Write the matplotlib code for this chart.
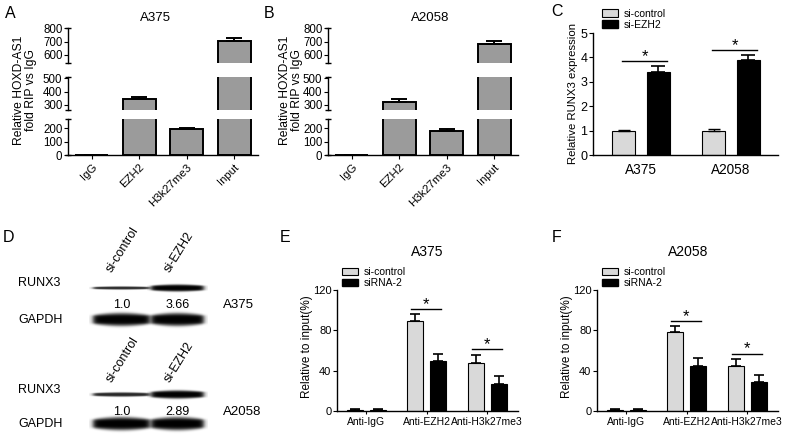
import numpy as np
import matplotlib
matplotlib.use('Agg')
import matplotlib.pyplot as plt
from matplotlib.patches import Patch

plt.rcParams['font.family'] = ['Liberation Sans', 'DejaVu Sans']
plt.rcParams['axes.linewidth'] = 1.0

# A / B : RIP assay
rip_cats = ['IgG', 'EZH2', 'H3k27me3', 'Input']
rip_a375 = [2, 345, 195, 705]
rip_a375_err = [1, 17, 10, 22]
rip_a2058 = [2, 325, 180, 680]
rip_a2058_err = [1, 20, 12, 28]

# C : qPCR
c_groups = ['A375', 'A2058']
c_ctrl = [1.0, 1.0]
c_ctrl_err = [0.03, 0.07]
c_ezh2 = [3.42, 3.88]
c_ezh2_err = [0.22, 0.22]

# D : western blot quantification
wb_lanes = ['si-control', 'si-EZH2']
wb_a375 = [1.0, 3.66]
wb_a2058 = [1.0, 2.89]

# E / F : ChIP
chip_cats = ['Anti-IgG', 'Anti-EZH2', 'Anti-H3k27me3']
e_ctrl = [1, 89, 48]
e_ctrl_err = [0.5, 7, 8]
e_si = [1, 50, 27]
e_si_err = [0.5, 7, 8]
f_ctrl = [1, 78, 45]
f_ctrl_err = [0.5, 6, 7]
f_si = [1, 45, 29]
f_si_err = [0.5, 8, 7]

W, H = 800, 438
fig = plt.figure(figsize=(W / 100, H / 100), dpi=100)


def px_axes(x0, y0, x1, y1):
    return fig.add_axes([x0 / W, 1 - y1 / H, (x1 - x0) / W, (y1 - y0) / H])


def ftext(x, y, s, **kw):
    fig.text(x / W, 1 - y / H, s, **kw)


def sig(ax, xl, xr, y, fs):
    ax.plot([xl, xr], [y, y], color='black', lw=1)
    ax.text((xl + xr) / 2, y, '*', ha='center', va='baseline', fontsize=fs)


def rip_panel(x0, x1, vals, errs):
    segs = [(119, 155, 0, 270, [0, 100, 200]),
            (76.7, 110, 262, 512, [300, 400, 500]),
            (28.3, 63.3, 537, 800, [600, 700, 800])]
    x = np.arange(len(rip_cats))
    for i, (top, bot, lo, hi, tk) in enumerate(segs):
        ax = px_axes(x0, top, x1, bot)
        ax.bar(x, vals, 0.7, color='#9b9b9b', edgecolor='black', linewidth=1.4)
        ax.errorbar(x, vals, yerr=[np.zeros(len(x)), errs], fmt='none', ecolor='black',
                    elinewidth=1.4, capsize=6, capthick=1.4)
        ax.set_xlim(-0.5, 3.5)
        ax.set_ylim(lo, hi)
        ax.set_yticks(tk)
        ax.spines[['top', 'right']].set_visible(False)
        ax.tick_params(axis='y', labelsize=8.3, length=3, pad=1)
        ax.plot([-0.5, -0.5], [lo, hi], marker='_', ms=5, mew=1, ls='none',
                color='black', clip_on=False)
        if i == 0:
            ax.set_xticks(x)
            ax.set_xticklabels(rip_cats, rotation=45, ha='right', va='top',
                               rotation_mode='anchor', fontsize=8.2)
            ax.tick_params(axis='x', length=3, pad=2)
        else:
            ax.spines['bottom'].set_visible(False)
            ax.set_xticks([])


rip_panel(68, 258, rip_a375, rip_a375_err)
rip_panel(328, 518, rip_a2058, rip_a2058_err)
ftext(10, 13, 'A', ha='center', va='center', fontsize=11.5)
ftext(269, 13, 'B', ha='center', va='center', fontsize=11.5)
ftext(155, 18, 'A375', ha='center', va='center', fontsize=9.5)
ftext(430, 18, 'A2058', ha='center', va='center', fontsize=9.5)
ftext(25, 90, 'Relative HOXD-AS1\nfold RIP vs IgG', ha='center', va='center',
      rotation=90, fontsize=8.7, linespacing=1.1)
ftext(291, 90, 'Relative HOXD-AS1\nfold RIP vs IgG', ha='center', va='center',
      rotation=90, fontsize=8.7, linespacing=1.1)

# C
axc = px_axes(593, 33, 778, 155)
xg = np.arange(len(c_groups))
axc.bar(xg - 0.194, c_ctrl, 0.255, color='#d9d9d9', edgecolor='black', lw=0.8)
axc.bar(xg + 0.19, c_ezh2, 0.255, color='black', edgecolor='black', lw=0.8)
axc.errorbar(xg - 0.194, c_ctrl, yerr=[np.zeros(2), c_ctrl_err], fmt='none',
             ecolor='black', elinewidth=1, capsize=4, capthick=1)
axc.errorbar(xg + 0.19, c_ezh2, yerr=[np.zeros(2), c_ezh2_err], fmt='none',
             ecolor='black', elinewidth=1.2, capsize=5, capthick=1.2)
axc.set_xlim(-0.533, 1.522)
axc.set_ylim(0, 5)
axc.set_yticks(range(6))
axc.set_xticks(xg)
axc.set_xticklabels(c_groups, fontsize=9.8)
axc.tick_params(axis='x', length=0, pad=6)
axc.tick_params(axis='y', labelsize=9, length=3, pad=1)
axc.spines[['top', 'right']].set_visible(False)
for g in xg:
    sig(axc, g - 0.21, g + 0.29, c_ezh2[g] + c_ezh2_err[g] + 0.2, 12)
axc.legend([Patch(facecolor='#d9d9d9', edgecolor='black', lw=0.8),
            Patch(facecolor='black', edgecolor='black')],
           ['si-control', 'si-EZH2'], loc='upper left', bbox_to_anchor=(0.05, 1.2),
           frameon=False, fontsize=7.5, handlelength=1.5, handleheight=0.7,
           handletextpad=0.6, labelspacing=0.1, borderpad=0, borderaxespad=0)
ftext(557, 12, 'C', ha='center', va='center', fontsize=11.5)
ftext(573, 94, 'Relative RUNX3 expression', ha='center', va='center',
      rotation=90, fontsize=8.2)

# D : blots drawn in pixel coordinates
axd = px_axes(0, 220, 270, 438)
axd.axis('off')


def band(ax, x0, x1, yc, thick, dark):
    xs = np.linspace(x0 - 4, x1 + 4, 120)
    ys = np.linspace(yc - 2.5 * thick - 2, yc + 2.5 * thick + 2, 60)
    X, Y = np.meshgrid(xs, ys)
    frac = np.clip((X - x0) / (x1 - x0), 0, 1)
    t = thick * (0.7 + 0.3 * np.sin(np.pi * frac))
    edge = 1 / (1 + np.exp(-(X - x0) / 1.5)) / (1 + np.exp((X - x1) / 1.5))
    a = dark * np.exp(-(np.abs(Y - yc) / t) ** 4) * edge
    rgba = np.zeros(X.shape + (4,))
    rgba[..., 3] = np.clip(a, 0, 1)
    ax.imshow(rgba, extent=(xs[0], xs[-1], ys[-1], ys[0]), aspect='auto',
              interpolation='bilinear')


lanes = [(93, 150), (151, 204)]
blots = [(wb_a375, 288, 320, 1.6, 'A375', 273, 305),
         (wb_a2058, 395, 424, 2.2, 'A2058', 383, 412)]
for quant, y_runx, y_gapdh, base, cell, y_lab, y_num in blots:
    for (lx0, lx1), q, name in zip(lanes, quant, wb_lanes):
        band(axd, lx0, lx1, y_runx, base * q ** 0.6, 0.85 if q == 1.0 else 1.0)
        band(axd, lx0, lx1, y_gapdh, 6.5, 1.0)
        axd.text((lx0 + lx1) / 2, y_num, f'{q:g}' if q != 1.0 else '1.0',
                 ha='center', va='center', fontsize=9)
        axd.text(lx0 + 19, y_lab, name, rotation=58, ha='left', va='baseline',
                 rotation_mode='anchor', fontsize=9)
    axd.text(18, y_runx - 5, 'RUNX3', ha='left', va='center', fontsize=9)
    axd.text(18, y_gapdh, 'GAPDH', ha='left', va='center', fontsize=9)
    axd.text(223, y_num, cell, ha='left', va='center', fontsize=9.5)
axd.set_xlim(0, 270)
axd.set_ylim(438, 220)
ftext(9, 238, 'D', ha='center', va='center', fontsize=11.5)


# E / F
def chip_panel(x0, x1, ctrl, ctrl_err, si, si_err, title, title_x, letter, letter_x):
    ax = px_axes(x0, 290, x1, 411)
    xc = np.arange(len(chip_cats))
    ax.bar(xc - 0.19, ctrl, 0.265, color='#d9d9d9', edgecolor='black', lw=0.8)
    ax.bar(xc + 0.19, si, 0.265, color='black', edgecolor='black', lw=0.8)
    ax.errorbar(xc - 0.19, ctrl, yerr=[np.zeros(3), ctrl_err], fmt='none',
                ecolor='black', elinewidth=1.2, capsize=3.5, capthick=1.2)
    ax.errorbar(xc + 0.19, si, yerr=[np.zeros(3), si_err], fmt='none',
                ecolor='black', elinewidth=1.2, capsize=3.5, capthick=1.2)
    ax.set_xlim(-0.48, 2.51)
    ax.set_ylim(0, 120)
    ax.set_yticks([0, 40, 80, 120])
    ax.set_xticks(xc)
    ax.set_xticklabels(chip_cats, fontsize=7.5)
    ax.tick_params(axis='x', length=2.5, pad=2)
    ax.tick_params(axis='y', labelsize=8, length=3, pad=1)
    ax.spines[['top', 'right']].set_visible(False)
    for g in (1, 2):
        top = max(ctrl[g] + ctrl_err[g], si[g] + si_err[g])
        sig(ax, g - 0.25, g + 0.24, top + 5, 12)
    ax.legend([Patch(facecolor='#d9d9d9', edgecolor='black', lw=0.8),
               Patch(facecolor='black', edgecolor='black')],
              ['si-control', 'siRNA-2'], loc='upper left', bbox_to_anchor=(0.028, 1.19),
              frameon=False, fontsize=7.5, handlelength=1.5, handleheight=0.7,
              handletextpad=0.6, labelspacing=0.1, borderpad=0, borderaxespad=0)
    ftext(title_x, 252, title, ha='center', va='center', fontsize=10)
    ftext(x0 - 30, 347, 'Relative to input(%)', ha='center', va='center',
          rotation=90, fontsize=8.5)
    ftext(letter_x, 237, letter, ha='center', va='center', fontsize=11.5)


chip_panel(337, 518, e_ctrl, e_ctrl_err, e_si, e_si_err, 'A375', 427, 'E', 285)
chip_panel(597, 778, f_ctrl, f_ctrl_err, f_si, f_si_err, 'A2058', 688, 'F', 557)

fig.savefig('out.png', dpi=100)
